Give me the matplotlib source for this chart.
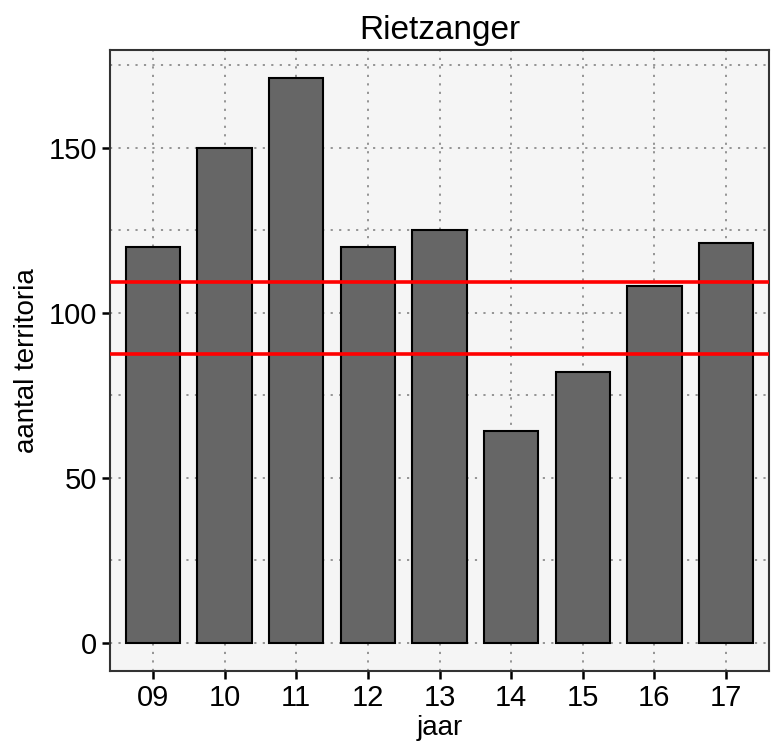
#bar chart of territory counts per year, ggplot look
import matplotlib.pyplot as plt
from matplotlib.ticker import MultipleLocator

jaren = ['09', '10', '11', '12', '13', '14', '15', '16', '17']
territoria = [120, 150, 171, 120, 125, 64, 82, 108, 121]
rode_lijnen = [109.2, 87.4]

plt.rcParams['font.family'] = ['Liberation Sans', 'DejaVu Sans']

fig = plt.figure(figsize=(7.81, 7.5), dpi=100)
ax = fig.add_axes([110/781, 1-671/750, (769-110)/781, (671-50)/750])
ax.set_facecolor('#f5f5f5')

x = range(len(jaren))
ax.bar(x, territoria, width=0.76, color='#666666', edgecolor='black', linewidth=1.5, zorder=3)
for y in rode_lijnen:
    ax.axhline(y, color='red', linewidth=2.6, zorder=4)

ax.set_xlim(-0.6, len(jaren) - 0.4)
ax.set_ylim(-8.55, 179.55)
ax.set_xticks(list(x))
ax.set_xticklabels(jaren)
ax.yaxis.set_major_locator(MultipleLocator(50))
ax.yaxis.set_minor_locator(MultipleLocator(25))
ax.grid(True, which='both', axis='y', color='#8c8c8c', linestyle=(0, (1.2, 3.5)), linewidth=1.3, zorder=1)
ax.grid(True, which='major', axis='x', color='#8c8c8c', linestyle=(0, (1.2, 3.5)), linewidth=1.3, zorder=1)
ax.tick_params(axis='y', which='minor', length=0)
ax.tick_params(axis='both', which='major', labelsize=21, length=6, width=1.8, color='black', labelcolor='black')

for s in ax.spines.values():
    s.set_color('#333333')
    s.set_linewidth(1.5)

ax.set_title('Rietzanger', fontsize=24, pad=8)
ax.set_xlabel('jaar', fontsize=20, labelpad=2)
ax.set_ylabel('aantal territoria', fontsize=20, labelpad=6)

plt.savefig('out.png', dpi=100)
